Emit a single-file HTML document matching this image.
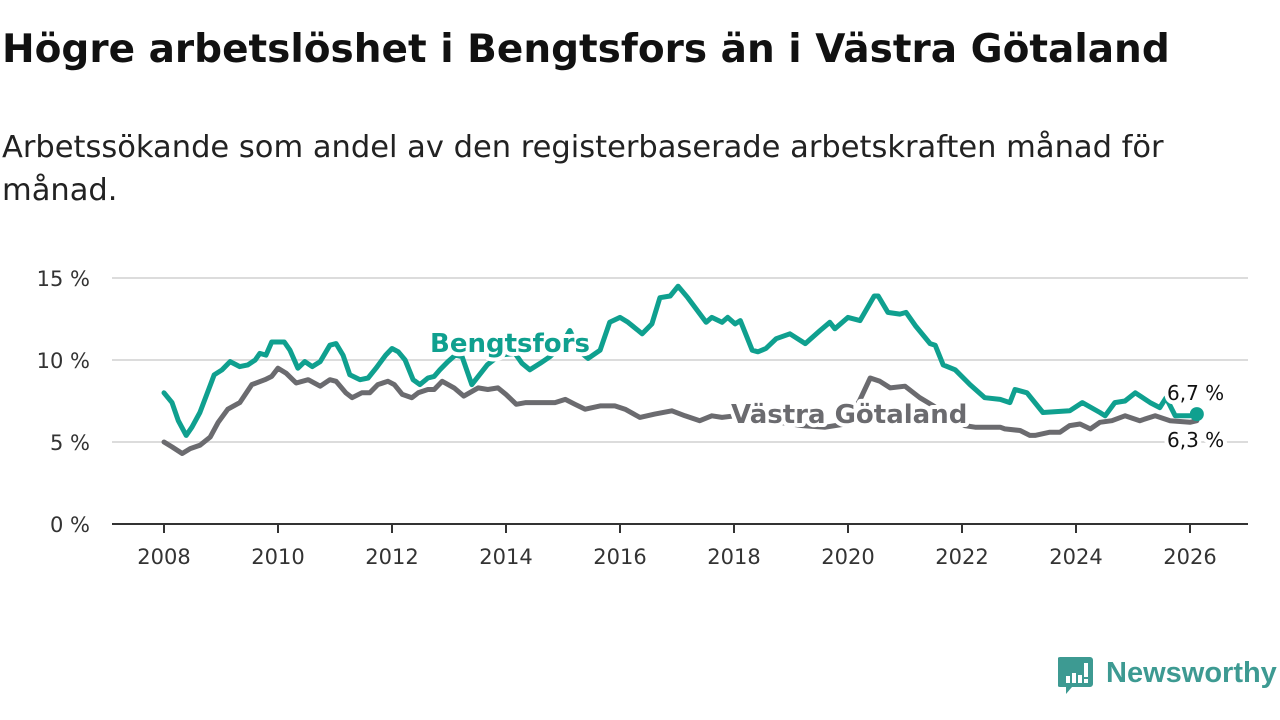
<!DOCTYPE html>
<html><head><meta charset="utf-8">
<style>
body{margin:0;width:1280px;height:720px;background:#fff;font-family:"DejaVu Sans","Liberation Sans",sans-serif;overflow:hidden;position:relative}
#title{position:absolute;left:2px;top:27px;font-size:39px;font-weight:bold;color:#111;margin:0;white-space:nowrap}
#sub{position:absolute;left:2px;top:126px;font-size:30.5px;color:#222;line-height:43px;width:1270px;white-space:nowrap}
#logo{position:absolute;left:1058px;top:654px}
</style></head><body>
<h1 id="title">Högre arbetslöshet i Bengtsfors än i Västra Götaland</h1>
<div id="sub">Arbetssökande som andel av den registerbaserade arbetskraften månad för<br>månad.</div>
<svg id="chart" width="1280" height="720" style="position:absolute;left:0;top:0" font-family="DejaVu Sans, Liberation Sans, sans-serif"></svg>
<div id="logo">
<svg width="220" height="42">
<path d="M2,3 h30 a3,3 0 0 1 3,3 v24 a3,3 0 0 1 -3,3 h-18 l-6,7 v-7 h-6 a3,3 0 0 1 -3,-3 v-24 a3,3 0 0 1 3,-3z" fill="#3d9a92"/>
<rect x="8" y="22" width="4" height="7" fill="#fff"/><rect x="14" y="19" width="4" height="10" fill="#fff"/><rect x="20" y="21" width="4" height="8" fill="#fff"/><rect x="26" y="9" width="4" height="14" fill="#fff"/><rect x="26" y="25" width="4" height="4" fill="#fff"/>
<text x="48" y="28" font-size="29" font-weight="bold" fill="#3d9a92" font-family="Liberation Sans, sans-serif">Newsworthy</text>
</svg></div>
<script>
const yTicks=[0,5,10,15];
const xTicks=[2008,2010,2012,2014,2016,2018,2020,2022,2024,2026];
const bengYears=[2008.00,2008.14,2008.25,2008.39,2008.49,2008.63,2008.75,2008.88,2009.02,2009.16,2009.33,2009.47,2009.60,2009.68,2009.79,2009.89,2010.11,2010.21,2010.35,2010.47,2010.60,2010.74,2010.91,2011.02,2011.14,2011.26,2011.44,2011.58,2011.72,2011.89,2012.00,2012.11,2012.23,2012.37,2012.49,2012.63,2012.74,2012.84,2012.98,2013.11,2013.23,2013.40,2013.67,2013.89,2014.16,2014.28,2014.42,2014.60,2014.77,2014.95,2015.12,2015.30,2015.44,2015.65,2015.82,2016.00,2016.14,2016.39,2016.56,2016.70,2016.88,2017.02,2017.19,2017.51,2017.61,2017.79,2017.89,2018.02,2018.11,2018.32,2018.42,2018.56,2018.74,2018.98,2019.25,2019.51,2019.68,2019.77,2020.00,2020.21,2020.46,2020.53,2020.70,2020.91,2021.02,2021.18,2021.44,2021.53,2021.67,2021.88,2022.14,2022.40,2022.67,2022.84,2022.93,2023.14,2023.42,2023.89,2024.11,2024.42,2024.51,2024.68,2024.86,2025.04,2025.30,2025.47,2025.58,2025.74,2026.00,2026.12];
const bengValues=[8.0,7.4,6.3,5.4,5.9,6.8,7.9,9.1,9.4,9.9,9.6,9.7,10.0,10.4,10.3,11.1,11.1,10.6,9.5,9.9,9.6,9.9,10.9,11.0,10.3,9.1,8.8,8.9,9.5,10.3,10.7,10.5,10.0,8.8,8.5,8.9,9.0,9.4,9.9,10.3,10.2,8.5,9.7,10.3,10.4,9.8,9.4,9.8,10.2,10.8,11.8,10.5,10.1,10.6,12.3,12.6,12.3,11.6,12.2,13.8,13.9,14.5,13.8,12.3,12.6,12.3,12.6,12.2,12.4,10.6,10.5,10.7,11.3,11.6,11.0,11.8,12.3,11.9,12.6,12.4,13.9,13.9,12.9,12.8,12.9,12.1,11.0,10.9,9.7,9.4,8.5,7.7,7.6,7.4,8.2,8.0,6.8,6.9,7.4,6.8,6.6,7.4,7.5,8.0,7.4,7.1,7.7,6.6,6.6,6.7];
const vgYears=[2008.00,2008.14,2008.32,2008.46,2008.63,2008.81,2008.95,2009.12,2009.33,2009.54,2009.77,2009.89,2010.00,2010.14,2010.32,2010.53,2010.74,2010.91,2011.02,2011.19,2011.30,2011.47,2011.61,2011.75,2011.93,2012.04,2012.18,2012.35,2012.46,2012.63,2012.74,2012.88,2013.09,2013.26,2013.51,2013.68,2013.86,2014.00,2014.18,2014.35,2014.56,2014.86,2015.04,2015.21,2015.39,2015.65,2015.91,2016.09,2016.35,2016.61,2016.91,2017.14,2017.40,2017.61,2017.79,2018.02,2018.40,2018.80,2019.20,2019.60,2019.95,2020.20,2020.39,2020.56,2020.74,2021.00,2021.26,2021.50,2021.80,2022.05,2022.23,2022.67,2022.75,2023.02,2023.19,2023.28,2023.54,2023.72,2023.89,2024.07,2024.25,2024.42,2024.63,2024.86,2025.12,2025.39,2025.65,2026.00,2026.12];
const vgValues=[5.0,4.7,4.3,4.6,4.8,5.3,6.2,7.0,7.4,8.5,8.8,9.0,9.5,9.2,8.6,8.8,8.4,8.8,8.7,8.0,7.7,8.0,8.0,8.5,8.7,8.5,7.9,7.7,8.0,8.2,8.2,8.7,8.3,7.8,8.3,8.2,8.3,7.9,7.3,7.4,7.4,7.4,7.6,7.3,7.0,7.2,7.2,7.0,6.5,6.7,6.9,6.6,6.3,6.6,6.5,6.6,6.4,6.2,6.0,5.9,6.1,7.5,8.9,8.7,8.3,8.4,7.7,7.2,6.5,6.0,5.9,5.9,5.8,5.7,5.4,5.4,5.6,5.6,6.0,6.1,5.8,6.2,6.3,6.6,6.3,6.6,6.3,6.2,6.3];

const NS='http://www.w3.org/2000/svg';
const svg=document.getElementById('chart');
const xS=y=>164+(y-2008)*57;
const yS=v=>524-v*16.4;
function mk(tag,attrs,parent){const e=document.createElementNS(NS,tag);for(const k in attrs)e.setAttribute(k,attrs[k]);(parent||svg).appendChild(e);return e;}

yTicks.forEach(t=>{
  if(t>0){const g=mk('line',{x1:112,x2:1248,y1:yS(t),y2:yS(t),stroke:'#dcdcdc','stroke-width':2});
  
  }
  const l=mk('text',{x:90,y:yS(t)+8,'text-anchor':'end','font-size':21,fill:'#333'});
  l.textContent=t+' %';
  
  
});
const ax=mk('line',{x1:112,x2:1248,y1:524,y2:524,stroke:'#333','stroke-width':2});


xTicks.forEach(t=>{
  const tk=mk('line',{x1:xS(t),x2:xS(t),y1:524,y2:533,stroke:'#333','stroke-width':2});
  
  
  const l=mk('text',{x:xS(t),y:564,'text-anchor':'middle','font-size':21,fill:'#333'});
  l.textContent=t;
  
  
});
function line(ys,vs,color,name){
  const d=ys.map((y,i)=>(i?'L':'M')+xS(y).toFixed(1)+','+yS(vs[i]).toFixed(1)).join('');
  const p=mk('path',{d:d,fill:'none',stroke:color,'stroke-width':5,'stroke-linejoin':'round','stroke-linecap':'round'});
  
  
}
line(vgYears,vgValues,'#6b6b6f','line-vastra-gotaland');
line(bengYears,bengValues,'#0fa08f','line-bengtsfors');
const lastB=bengYears.length-1;
const dot=mk('circle',{cx:xS(bengYears[lastB]),cy:yS(bengValues[lastB]),r:7,fill:'#0fa08f'});


function lab(x,y,txt,color,size,weight,name,anchor){
  const t=mk('text',{x:x,y:y,fill:color,'font-size':size,'font-weight':weight,stroke:'#fff','stroke-width':8,'stroke-linejoin':'round','paint-order':'stroke','text-anchor':anchor||'start'});
  t.textContent=txt;
  
  
}
lab(430,352,'Bengtsfors','#0fa08f',26,'bold','label-bengtsfors');
lab(731,423,'Västra Götaland','#6b6b6f',26,'bold','label-vastra-gotaland');
lab(1167,400,'6,7 %','#111',20,'normal','end-value-bengtsfors');
lab(1167,447,'6,3 %','#111',20,'normal','end-value-vastra-gotaland');
</script>
</body></html>
